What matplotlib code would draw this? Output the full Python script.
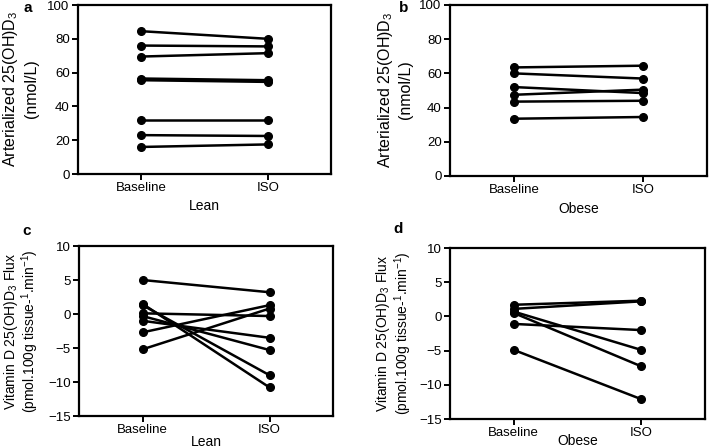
import matplotlib.pyplot as plt
import numpy as np

plt.rcParams['font.family'] = ['Liberation Sans', 'DejaVu Sans']
plt.rcParams['mathtext.default'] = 'regular'

#%% data
categories = ['Baseline', 'ISO']

lean_conc_base = [84.5, 76, 69.5, 56.5, 55.5, 32, 23, 16]
lean_conc_iso = [80, 75.5, 71.5, 55.5, 54.5, 32, 22.5, 17.5]

obese_conc_base = [63.5, 60, 52, 47.5, 43.5, 33.5]
obese_conc_iso = [64.5, 57, 48.5, 50.5, 44, 34.5]

lean_flux_base = [5.0, 1.5, 1.3, 0.1, -0.3, -1.0, -2.7, -5.2]
lean_flux_iso = [3.2, -10.8, -9.0, -0.3, -5.3, -3.5, 1.3, 0.8]

obese_flux_base = [1.7, 1.1, 0.7, 0.5, -1.1, -4.9]
obese_flux_iso = [2.3, 2.2, -4.9, -7.3, -2.0, -12.1]

conc_label = ['Arterialized 25(OH)D$_3$', '(nmol/L)']
flux_label = ['Vitamin D 25(OH)D$_3$ Flux', '(pmol.100g tissue-$^{1}$.min$^{-1}$)']

#%% figure
W, H = 709, 448
fig = plt.figure(figsize=(W / 100, H / 100), dpi=100)

def px_axes(left, top, right, bottom):
    return fig.add_axes([left / W, 1 - bottom / H, (right - left) / W, (bottom - top) / H])

def draw_panel(ax, base, iso, ylim, yticks, xlabel, xlabel_y):
    x = np.arange(len(categories))
    for b, i in zip(base, iso):
        ax.plot(x, [b, i], color='black', lw=1.8, marker='o', ms=5.5, clip_on=False)
    ax.set_xlim(-0.5, 1.5)
    ax.set_ylim(*ylim)
    ax.set_yticks(yticks)
    ax.set_xticks(x)
    ax.set_xticklabels(categories)
    for s in ax.spines.values():
        s.set_linewidth(1.6)
    ax.tick_params(direction='out', length=4, width=1.4, labelsize=9.5, pad=2)
    ax.text(0.5, xlabel_y, xlabel, transform=ax.transAxes, ha='center', va='top', fontsize=10)

def two_line_ylabel(lines, x1, x2, ymid, size):
    # each line of the y label is its own rotated text (figure pixels)
    for txt, xp in zip(lines, (x1, x2)):
        fig.text(xp / W, 1 - ymid / H, txt, rotation=90, ha='center', va='center',
                 fontsize=size)

ax_a = px_axes(78, 5, 331, 174)
draw_panel(ax_a, lean_conc_base, lean_conc_iso, (0, 100), [0, 20, 40, 60, 80, 100],
           'Lean', -0.15)
two_line_ylabel(conc_label, 11, 31, 89, 11.5)

ax_b = px_axes(450, 5, 707, 176)
draw_panel(ax_b, obese_conc_base, obese_conc_iso, (0, 100), [0, 20, 40, 60, 80, 100],
           'Obese', -0.15)
two_line_ylabel(conc_label, 385, 405, 90, 11.5)

ax_c = px_axes(79, 246, 333, 416)
draw_panel(ax_c, lean_flux_base, lean_flux_iso, (-15, 10), [-15, -10, -5, 0, 5, 10],
           'Lean', -0.11)
two_line_ylabel(flux_label, 11, 30, 331, 10)

ax_d = px_axes(450, 248, 705, 419)
draw_panel(ax_d, obese_flux_base, obese_flux_iso, (-15, 10), [-15, -10, -5, 0, 5, 10],
           'Obese', -0.09)
two_line_ylabel(flux_label, 383, 403, 333, 10)

# panel letters, placed in figure pixels
for letter, lx, ly in [('a', 28, 8), ('b', 404, 8), ('c', 27, 231), ('d', 398, 229)]:
    fig.text(lx / W, 1 - ly / H, letter, ha='center', va='center',
             fontsize=11, fontweight='bold')

fig.savefig('out.png', dpi=100)
